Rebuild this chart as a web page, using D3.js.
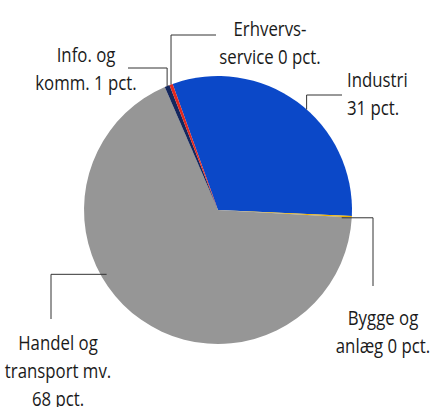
<!DOCTYPE html>
<html>
<head>
<meta charset="utf-8">
<script src="https://cdn.jsdelivr.net/npm/d3@7"></script>
<style>
  body { margin: 0; background: #fff; }
  svg text { font-family: "Open Sans", sans-serif; font-size: 20px; fill: #1a1a1a; }
</style>
</head>
<body>
<div class="pie"></div>
<script>
// data (shares of total, pct.)
var categories = ['Industri', 'Bygge og anlæg', 'Handel og transport mv.', 'Info. og komm.', 'Erhvervsservice'];
var values = [31.2, 0.2, 67.6, 0.6, 0.4];
var colors = ['#0b48c8', '#f0b400', '#969696', '#14275e', '#e2281f'];
var labelLines = [
  ['Industri', '31 pct.'],
  ['Bygge og', 'anlæg 0 pct.'],
  ['Handel og', 'transport mv.', '68 pct.'],
  ['Info. og', 'komm. 1 pct.'],
  ['Erhvervs-', 'service 0 pct.']
];

var width = 433, height = 407;
var cx = 218, cy = 210, r = 134;
var startDeg = -19.8;
var squeeze = 0.84; // the source font is a condensed one

// leader layout: angle (null = slice middle), radius factor, first leg direction, elbow, end
var leaders = [
  { ang: 41.4, rf: 1, dir: 'v', elbow: 95, end: 342, tx: 347, ty: 87, anchor: 'start' },
  { ang: 93.6, rf: 0.925, dir: 'h', elbow: 373, end: 286, tx: 383, ty: 325, anchor: 'middle' },
  { ang: 240, rf: 0.96, dir: 'h', elbow: 51, end: 319, tx: 58, ty: 350, anchor: 'middle' },
  { ang: null, rf: 1, dir: 'v', elbow: 68, end: 128, tx: 86, ty: 62, anchor: 'middle' },
  { ang: null, rf: 1, dir: 'v', elbow: 35, end: 216, tx: 270, ty: 36, anchor: 'middle' }
];
var lineGap = 28;

var svg = d3.select('.pie')
  .append('svg')
    .attr('width', width)
    .attr('height', height);

var pie = d3.pie()
  .sort(null)
  .startAngle(startDeg * Math.PI / 180)
  .endAngle((startDeg + 360) * Math.PI / 180);

var arcs = pie(values);

var arc = d3.arc().innerRadius(0).outerRadius(r);

var g = svg.append('g')
  .attr('transform', 'translate(' + cx + ',' + cy + ')');

g.selectAll('path.slice')
    .data(arcs)
  .enter().append('path')
    .attr('class', 'slice')
    .attr('d', arc)
    .attr('fill', function(d, i) { return colors[i]; });

// leader lines
function pt(angRad, rad) {
  return [cx + rad * Math.sin(angRad), cy - rad * Math.cos(angRad)];
}

arcs.forEach(function(d, i) {
  var L = leaders[i];
  var a = L.ang === null ? (d.startAngle + d.endAngle) / 2 : L.ang * Math.PI / 180;
  var p0 = pt(a, r * L.rf);
  var pts;
  if (L.dir === 'v') {
    pts = [p0, [p0[0], L.elbow], [L.end, L.elbow]];
  } else {
    pts = [p0, [L.elbow, p0[1]], [L.elbow, L.end]];
  }
  svg.append('path')
    .attr('d', d3.line()(pts))
    .attr('fill', 'none')
    .attr('stroke', '#333')
    .attr('stroke-width', 1);

  var t = svg.append('text')
    .attr('transform', 'translate(' + L.tx + ',' + L.ty + ') scale(' + squeeze + ',1)')
    .attr('text-anchor', L.anchor);
  labelLines[i].forEach(function(s, k) {
    t.append('tspan')
      .attr('x', 0)
      .attr('y', k * lineGap)
      .text(s);
  });
});
</script>
</body>
</html>
